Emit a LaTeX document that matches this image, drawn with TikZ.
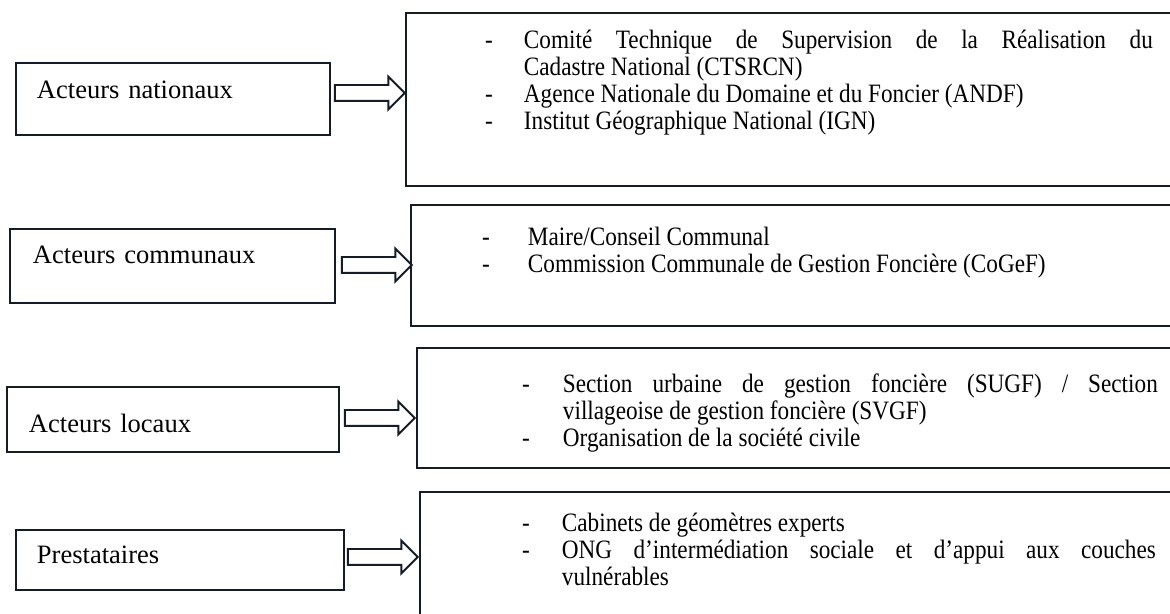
\documentclass[tikz,border=0pt]{standalone}
\usepackage{fontspec}
\setmainfont{Liberation Serif}
\newfontfamily\etroit[FakeStretch=0.875]{Liberation Serif}
\usepackage{tikz}
\usetikzlibrary{shapes.arrows,positioning,calc}
\usepackage{xcolor}
\definecolor{trait}{RGB}{22,27,40}
\newcommand{\tiret}[1]{\leavevmode\llap{-\hspace{#1}}}
\hbadness=10000

\begin{document}
\begin{tikzpicture}[x=0.02cm, y=-0.02cm,
    acteur/.style={draw=trait, line width=1.1pt, anchor=north west, inner ysep=0pt, align=left,
        font=\fontsize{15.1pt}{18pt}\selectfont},
    liste/.style={draw=trait, line width=1.1pt, anchor=north west, inner ysep=0pt, align=justify,
        font=\etroit\fontsize{15.1pt}{15.36pt}\selectfont},
    fleche/.style={single arrow, draw=trait, line width=1.1pt, fill=white, inner xsep=0pt,
        inner ysep=0.14cm, single arrow head extend=0.17cm, minimum height=1.4cm, anchor=tail}]

    \useasboundingbox (0,0) rectangle (1170,613);
    \clip (0,0) rectangle (1170,613);

    % Acteurs nationaux
    \node[acteur, text width=5.44cm, inner xsep=0.42cm, text height=0.72cm, text depth=0.72cm] (nat) at (15,62) {Acteurs nationaux};
    \node[liste, text width=12.58cm, inner xsep=2.36cm, text height=0.72cm, text depth=2.74cm] (lnat) at (405,12)
        {\tiret{0.62cm}Comité Technique de Supervision de la Réalisation du\linebreak Cadastre National (CTSRCN)\par
         \tiret{0.62cm}Agence Nationale du Domaine et du Foncier (ANDF)\par
         \tiret{0.62cm}Institut Géographique National (IGN)};
    \node[fleche] (f1) at ($(nat.east)+(3,-6)$) {};

    % Acteurs communaux
    \node[acteur, text width=5.58cm, inner xsep=0.46cm, text height=0.70cm, text depth=0.78cm] (com) at (9,228) {Acteurs communaux};
    \node[liste, text width=12cm, inner xsep=2.34cm, text height=0.82cm, text depth=1.6cm] (lcom) at (410,204)
        {\tiret{0.76cm}Maire/Conseil Communal\par
         \tiret{0.76cm}Commission Communale de Gestion Foncière (CoGeF)};
    \node[fleche] (f2) at ($(com.east)+(5,-1)$) {};

    % Acteurs locaux
    \node[acteur, text width=5.76cm, inner xsep=0.44cm, text height=0.92cm, text depth=0.38cm] (loc) at (6,386) {Acteurs locaux};
    \node[liste, text width=11.9cm, inner xsep=2.92cm, text height=0.9cm, text depth=1.5cm] (lloc) at (416,347)
        {\tiret{0.66cm}Section urbaine de gestion foncière (SUGF) / Section\linebreak villageoise de gestion foncière (SVGF)\par
         \tiret{0.66cm}Organisation de la société civile};
    \node[fleche] (f3) at ($(loc.east)+(4,-1.5)$) {};

    % Prestataires
    \node[acteur, text width=5.72cm, inner xsep=0.42cm, text height=0.68cm, text depth=0.52cm] (pres) at (15,529) {Prestataires};
    \node[liste, text width=11.88cm, inner xsep=2.84cm, text height=0.8cm, text depth=2.18cm] (lpres) at (419,491)
        {\tiret{0.64cm}Cabinets de géomètres experts\par
         \tiret{0.64cm}ONG d’intermédiation sociale et d’appui aux couches\linebreak vulnérables};
    \node[fleche] (f4) at ($(pres.east)+(2,-3)$) {};
\end{tikzpicture}
\end{document}
